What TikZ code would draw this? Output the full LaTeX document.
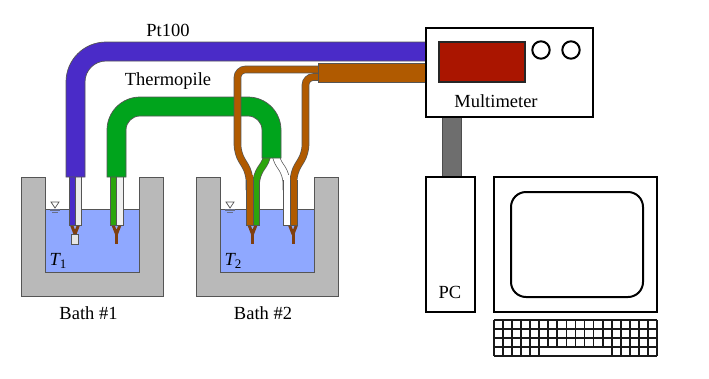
\documentclass[tikz,border=0pt]{standalone}
\usepackage{fontspec}
\setmainfont{Liberation Serif}
\definecolor{pipeblue}{HTML}{4A2BC8}
\definecolor{pipegreen}{HTML}{00A41C}
\definecolor{wiregreen}{HTML}{2CA50C}
\definecolor{pipebrown}{HTML}{B05A00}
\definecolor{tipbrown}{HTML}{7F3F10}
\definecolor{water}{HTML}{8FA8FF}
\definecolor{bathgrey}{HTML}{B9B9B9}
\definecolor{edge}{HTML}{555555}
\definecolor{display}{HTML}{AA1500}
\definecolor{cable}{HTML}{6E6E6E}
\tikzset{
  x=1pt, y=-1pt,
  edged/.style={draw=edge, line width=0.7pt},
  wire/.style={draw=edge, line width=0.7pt, double=#1, double distance=6.2pt, rounded corners=8pt},
  tip/.style={draw=tipbrown, line width=3pt, line join=round},
  box/.style={draw=black, line width=2pt, fill=white},
  lbl/.style={font=\fontsize{18.5}{20}\selectfont, inner sep=0pt},
  key/.style={draw=black!90, line width=1.8pt}
}
\newcommand{\tempsym}[1]{{\itshape T}\raisebox{-0.35ex}{\fontsize{13}{13}\selectfont #1}}
\newcommand{\levelmark}[1]{%
  \draw[edge, line width=0.7pt, fill=white] (#1-4,202) -- (#1+4,202) -- (#1,208) -- cycle;
  \draw[edge!70!water, line width=1.3pt] (#1-5,210) -- (#1+5,210);
  \draw[edge!70!water, line width=1pt] (#1-3,212.5) -- (#1+3,212.5);
}
\newcommand{\bathvessel}[1]{%
  \begin{scope}[xshift=#1pt]
    \fill[water] (45,209) rectangle (139,272);
    \draw[edge, line width=0.7pt] (45,209) -- (139,209);
    \draw[edge, line width=0.8pt, fill=bathgrey]
      (21,177) -- (45,177) -- (45,272) -- (139,272) -- (139,177) -- (163,177)
      -- (163,296) -- (21,296) -- cycle;
  \end{scope}}
\newcommand{\probetip}[1]{%
  \draw[tip] (#1-3.5,225) -- (#1,234) -- (#1+3.5,225);
  \draw[tip] (#1,233) -- (#1,243.5);
}
\begin{document}
\begin{tikzpicture}
\useasboundingbox (0,0) rectangle (709,378);
\fill[white] (0,0) rectangle (709,378);

% Baths
\bathvessel{0}
\bathvessel{175}
\levelmark{55}
\levelmark{230}

% Platinum thermometer in bath 1
\probetip{75}
\draw[edge, line width=0.8pt, fill=white!90!black] (71.5,234) rectangle (78,244);
\draw[edged, fill=pipeblue] (69,170) rectangle (75,225);
\draw[edged, fill=white!92!black] (75,170) rectangle (81,225);

% Thermopile leg in bath 1
\probetip{116.5}
\draw[edged, fill=wiregreen] (110,170) rectangle (116.5,225);
\draw[edged, fill=white!94!black] (116.5,170) rectangle (123,225);

% Thermopile legs in bath 2
\probetip{252.5}
\probetip{293}

% Lead wires leaving the thermopile sheath
\draw[wire=wiregreen] (268,150) -- (268,158) -- (256,176) -- (256,190);
\draw[wire=white] (275,150) -- (275,158) -- (286.5,175) -- (286.5,190);

% Thermopile sheath
\draw[edged, fill=pipegreen]
  [rounded corners=33pt] (107,177) -- (107,97) -- (281,97)
  [sharp corners] -- (281,158) -- (262,158)
  [rounded corners=14pt] -- (262,116) -- (126,116)
  [sharp corners] -- (126,177) -- cycle;

% Platinum thermometer sheath
\draw[edged, fill=pipeblue]
  [rounded corners=40pt] (66,177) -- (66,42)
  [sharp corners] -- (430,42) -- (430,61)
  [rounded corners=21pt] -- (85,61)
  [sharp corners] -- (85,177) -- cycle;

% Copper leads
\draw[wire=pipebrown] (320,69.5) -- (237.5,69.5) -- (237.5,153) -- (249.5,173) -- (249.5,190);
\draw[wire=pipebrown] (320,77) -- (305.5,77) -- (305.5,153) -- (293.5,173) -- (293.5,190);
\draw[edged, fill=wiregreen] (253,180) rectangle (259.5,225);
\draw[edged, fill=pipebrown] (246,180) rectangle (253,225);
\draw[edged, fill=white] (283,180) rectangle (290,225);
\draw[edged, fill=pipebrown] (290,180) rectangle (297,225);
\fill[wiregreen] (253.5,175) rectangle (259,181);
\fill[pipebrown] (246.5,175) rectangle (252.5,181);
\fill[white] (283.5,175) rectangle (289.5,181);
\fill[pipebrown] (290.5,175) rectangle (296.5,181);

% Copper cable to the multimeter
\draw[edged, fill=pipebrown] (318,63) rectangle (430,82);

% Link between multimeter and PC
\draw[draw=black!70, line width=0.8pt, fill=cable] (442,117) rectangle (461,177);

% Multimeter
\draw[box] (426,28) rectangle (593,117);
\draw[draw=black!85, line width=2pt, fill=display] (439,42) rectangle (525,82);
\draw[draw=black, line width=2pt] (541,50) circle (8.7);
\draw[draw=black, line width=2pt] (571,50) circle (8.7);
\node[lbl] (meterlabel) at (496,101) {Multimeter};

% PC tower
\draw[box] (426,177) rectangle (475,312);
\node[lbl] (pclabel) at (450,292) {PC};

% Monitor
\draw[box] (494,177) rectangle (657,312);
\draw[draw=black, line width=2pt, rounded corners=15pt] (511,192) rectangle (643,297);

% Keyboard on a nine-unit key pitch
\foreach \k in {0,...,18} {
  \pgfmathsetmacro{\kx}{494+\k*9.05}
  \draw[key] (\kx,320) -- (\kx,347);
}
\foreach \k in {0,...,5,13,14,...,18} {
  \pgfmathsetmacro{\kx}{494+\k*9.05}
  \draw[key] (\kx,347) -- (\kx,356);
}
\foreach \r in {320,329,338,347,356} {
  \draw[key] (494,\r) -- (657,\r);
}

% Labels
\node[lbl] (ptlabel) at (168,30) {Pt100};
\node[lbl] (pilelabel) at (168,81) {Thermopile};
\node[lbl] (bathonelabel) at (88.5,313) {Bath \#1};
\node[lbl] (bathtwolabel) at (263,313) {Bath \#2};
\node[lbl] (tempone) at (58,261) {\tempsym{1}};
\node[lbl] (temptwo) at (233,261) {\tempsym{2}};
\end{tikzpicture}
\end{document}
